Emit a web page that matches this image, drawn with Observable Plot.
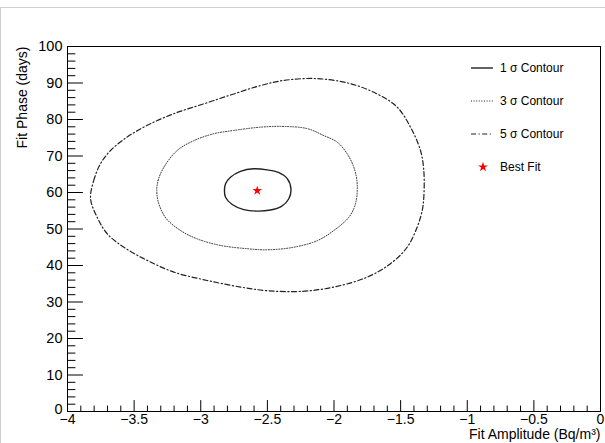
<!DOCTYPE html>
<html><head><meta charset="utf-8">
<script src="https://cdn.jsdelivr.net/npm/d3@7"></script>
<script src="https://cdn.jsdelivr.net/npm/@observablehq/plot@0.6"></script>
<style>
body{margin:0;background:#fff;font-family:"Liberation Sans",Arial,sans-serif;}
#wrap{position:relative;width:605px;height:443px;overflow:hidden;}
#border{position:absolute;left:0;top:7px;width:700px;height:600px;border-top:1px solid #cfcfcf;border-left:1px solid #cfcfcf;pointer-events:none;}
#legend{position:absolute;left:0;top:0;width:605px;height:443px;pointer-events:none;}
.item{position:absolute;display:flex;align-items:center;height:20px;font-size:12px;color:#000;}
.item svg{margin-right:5px;}
</style>
</head><body>
<div id="wrap"><div id="chart"></div><div id="legend"></div><div id="border"></div></div>
<script>
// Contour points [amplitude, phase]
const sigma1 = [
  [-2.822,60.5],[-2.814,62.4],[-2.777,64.2],[-2.702,65.8],[-2.602,66.5],[-2.501,66.2],
  [-2.417,65.5],[-2.351,63.8],[-2.323,61.0],[-2.339,58.3],[-2.394,56.2],[-2.477,55.2],
  [-2.576,54.9],[-2.677,55.3],[-2.764,56.7],[-2.814,58.7]
];
const sigma3 = [
  [-3.330,60.5],[-3.320,63.3],[-3.277,66.9],[-3.177,71.5],[-3.052,74.2],[-2.902,76.1],
  [-2.752,77.0],[-2.552,77.9],[-2.377,78.1],[-2.201,77.5],[-2.077,75.6],[-1.976,73.8],
  [-1.901,70.6],[-1.851,66.9],[-1.826,62.4],[-1.839,56.9],[-1.889,53.2],[-2.001,49.6],
  [-2.126,46.8],[-2.302,45.0],[-2.501,44.3],[-2.651,44.6],[-2.852,45.5],[-3.027,47.3],
  [-3.152,49.6],[-3.262,53.0],[-3.318,57.3]
];
const sigma5 = [
  [-3.827,58.3],[-3.803,63.3],[-3.752,67.9],[-3.677,71.5],[-3.552,75.2],[-3.402,78.4],
  [-3.202,81.6],[-2.977,84.3],[-2.752,87.0],[-2.552,89.3],[-2.379,90.7],[-2.126,91.2],
  [-1.876,89.8],[-1.676,87.0],[-1.526,83.4],[-1.426,77.9],[-1.351,71.5],[-1.326,66.0],
  [-1.326,58.7],[-1.338,55.1],[-1.376,50.5],[-1.451,45.0],[-1.576,40.5],[-1.751,36.8],
  [-2.001,34.1],[-2.251,32.9],[-2.501,33.1],[-2.702,34.1],[-2.952,35.9],[-3.202,38.2],
  [-3.402,41.4],[-3.577,45.0],[-3.702,48.7],[-3.777,53.2]
];
const bestFit = [[-2.576, 60.5]];

const xMajor = [-4,-3.5,-3,-2.5,-2,-1.5,-1,-0.5,0];
const yMajor = [0,10,20,30,40,50,60,70,80,90,100];
const xMinor = d3.range(0,41).map(i => -4 + i*0.1).filter((v,i) => i % 5 !== 0);
const yMinor = d3.range(0,51).map(i => i*2).filter((v,i) => i % 5 !== 0);

const legendItems = [
  {label: "1 σ Contour", kind: "line", dash: null, width: 1.4},
  {label: "3 σ Contour", kind: "line", dash: "1,1.6", width: 1},
  {label: "5 σ Contour", kind: "line", dash: "5,2.5,1.2,2.5", width: 1.2},
  {label: "Best Fit", kind: "star"}
];

const fmt = d => d < 0 ? "\u2212" + Math.abs(d) : String(d);
const tickShape = {draw(ctx, l) { ctx.moveTo(0, 0); ctx.lineTo(0, -l); }};
const px = d => d[0], py = d => d[1];

const chart = Plot.plot({
  width: 605, height: 443,
  marginLeft: 67, marginRight: 5, marginTop: 46, marginBottom: 32,
  style: {fontFamily: "'Liberation Sans', Arial, sans-serif", background: "transparent", color: "#000"},
  x: {domain: [-4, 0]},
  y: {domain: [0, 100]},
  marks: [
    Plot.line(sigma5, {x: px, y: py, curve: "catmull-rom-closed", stroke: "#222", strokeWidth: 1.2, strokeDasharray: "5,2.5,1.2,2.5"}),
    Plot.line(sigma3, {x: px, y: py, curve: "catmull-rom-closed", stroke: "#333", strokeWidth: 1, strokeDasharray: "1,1.6"}),
    Plot.line(sigma1, {x: px, y: py, curve: "catmull-rom-closed", stroke: "#222", strokeWidth: 1.4}),
    Plot.dot(bestFit, {x: px, y: py, symbol: "star", fill: "red", r: 3}),
    Plot.vector(xMajor, {x: d => d, frameAnchor: "bottom", length: 11, rotate: 0, anchor: "start", shape: tickShape, stroke: "#000", strokeWidth: 1}),
    Plot.vector(xMinor, {x: d => d, frameAnchor: "bottom", length: 5.5, rotate: 0, anchor: "start", shape: tickShape, stroke: "#000", strokeWidth: 1}),
    Plot.vector(yMajor, {y: d => d, frameAnchor: "left", length: 15, rotate: 90, anchor: "start", shape: tickShape, stroke: "#000", strokeWidth: 1}),
    Plot.vector(yMinor, {y: d => d, frameAnchor: "left", length: 7.5, rotate: 90, anchor: "start", shape: tickShape, stroke: "#000", strokeWidth: 1}),
    Plot.frame({stroke: "#000", strokeWidth: 1}),
    Plot.axisX(xMajor, {tickSize: 0, tickPadding: 3, fontSize: 14, tickFormat: fmt, label: null}),
    Plot.axisY(yMajor.filter(d => d > 0), {tickSize: 0, tickPadding: 5, fontSize: 14.5, tickFormat: fmt, label: null}),
    Plot.axisY([0], {tickSize: 0, tickPadding: 5, fontSize: 14.5, tickFormat: fmt, label: null, dy: -2}),
    Plot.text(["Fit Amplitude (Bq/m³)"], {frameAnchor: "bottom-right", text: d => d, textAnchor: "end", dy: 27.5, fontSize: 14, fill: "#000"}),
    Plot.text(["Fit Phase (days)"], {frameAnchor: "top-left", text: d => d, rotate: -90, textAnchor: "end", dx: -50, fontSize: 14, fill: "#000"})
  ]
});
document.getElementById("chart").appendChild(chart);

// Legend (inside plot area, top right)
const legend = document.getElementById("legend");
legendItems.forEach((it, i) => {
  const div = document.createElement("div");
  div.className = "item";
  div.style.left = "468px";
  div.style.top = (57.5 + i * 33) + "px";
  const svg = d3.create("svg").attr("width", 27).attr("height", 20);
  if (it.kind === "line") {
    const ln = svg.append("line").attr("x1", 3).attr("x2", 25).attr("y1", 10).attr("y2", 10)
      .attr("stroke", "#222").attr("stroke-width", it.width);
    if (it.dash) ln.attr("stroke-dasharray", it.dash);
  } else {
    svg.append("path").attr("d", d3.symbol(d3.symbolStar, 30)()).attr("transform", "translate(15,10)").attr("fill", "red");
  }
  div.appendChild(svg.node());
  const span = document.createElement("span");
  span.textContent = it.label;
  div.appendChild(span);
  legend.appendChild(div);
});
</script>
</body></html>
